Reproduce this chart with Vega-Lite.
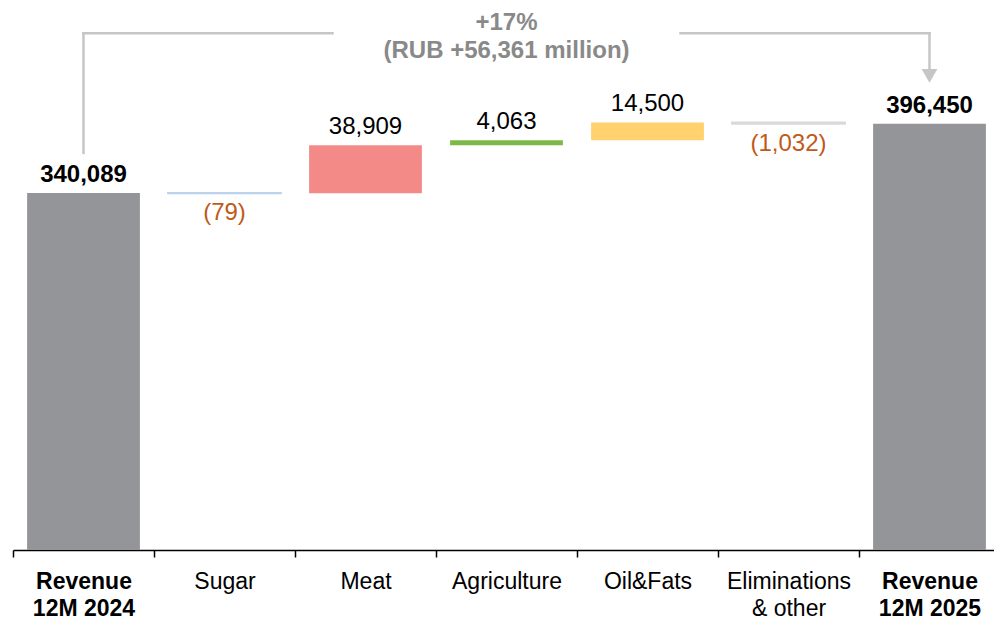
{
  "$schema": "https://vega.github.io/schema/vega-lite/v6.json",
  "width": 987,
  "height": 550,
  "autosize": {"type": "none"},
  "padding": {"left": 13, "top": 0, "right": 0, "bottom": 69},
  "background": "white",
  "config": {
    "view": {"stroke": null},
    "font": "Liberation Sans"
  },
  "datasets": {
    "bars": [
      {"cat": "Revenue 12M 2024", "kind": "total", "start": 0, "end": 340089, "delta": 340089},
      {"cat": "Sugar", "kind": "down", "start": 340089, "end": 340010, "delta": -79},
      {"cat": "Meat", "kind": "up", "start": 340010, "end": 378919, "delta": 38909},
      {"cat": "Agriculture", "kind": "up", "start": 378919, "end": 382982, "delta": 4063},
      {"cat": "Oil&Fats", "kind": "up", "start": 382982, "end": 397482, "delta": 14500},
      {"cat": "Eliminations & other", "kind": "down", "start": 397482, "end": 396450, "delta": -1032},
      {"cat": "Revenue 12M 2025", "kind": "total", "start": 0, "end": 396450, "delta": 396450}
    ],
    "vlines": [
      {"cat": "Revenue 12M 2024", "y": 372700, "y2": 470000},
      {"cat": "Revenue 12M 2025", "y": 470000, "y2": 441000}
    ],
    "hline1": [{"cat": "Revenue 12M 2024", "cat2": "Meat", "y": 470000}],
    "hline2": [{"cat": "Oil&Fats", "cat2": "Revenue 12M 2025", "y": 470000}],
    "arrow": [{"cat": "Revenue 12M 2025", "y": 435300}],
    "note": [
      {"cat": "Agriculture", "y": 472600, "t": "+17%"},
      {"cat": "Agriculture", "y": 449900, "t": "(RUB +56,361 million)"}
    ]
  },
  "layer": [
    {
      "data": {"name": "bars"},
      "mark": {"type": "bar", "clip": true, "width": {"band": 0.8}},
      "encoding": {
        "x": {
          "field": "cat", "type": "nominal", "sort": null, "title": null,
          "scale": {
            "domain": ["Revenue 12M 2024", "Sugar", "Meat", "Agriculture", "Oil&Fats", "Eliminations & other", "Revenue 12M 2025"],
            "paddingInner": 0, "paddingOuter": 0
          },
          "axis": {
            "labelAngle": 0,
            "labelFont": "Liberation Sans",
            "labelFontSize": 23,
            "labelColor": "#000000",
            "labelLineHeight": 27,
            "labelPadding": 13,
            "labelExpr": "datum.value ? split(replace(replace(datum.value, 'Revenue ', 'Revenue\\n'), 'Eliminations ', 'Eliminations\\n'), '\\n') : ''",
            "labelFontWeight": {"condition": {"test": "indexof('' + datum.value, 'Revenue') >= 0", "value": "bold"}, "value": "normal"},
            "domainColor": "#000000",
            "domainWidth": 1.5,
            "tickColor": "#000000",
            "tickWidth": 1.5,
            "tickSize": 7,
            "tickBand": "extent",
            "grid": false
          }
        },
        "y": {
          "field": "start", "type": "quantitative",
          "scale": {"domain": [50000, 497000], "zero": false, "nice": false},
          "axis": null
        },
        "y2": {"field": "end"},
        "color": {
          "field": "cat", "type": "nominal", "legend": null,
          "scale": {
            "domain": ["Revenue 12M 2024", "Sugar", "Meat", "Agriculture", "Oil&Fats", "Eliminations & other", "Revenue 12M 2025"],
            "range": ["#939598", "#bcd3ee", "#f48a88", "#7db84a", "#ffd26f", "#d9d9d9", "#939598"]
          }
        },
        "stroke": {
          "field": "cat", "type": "nominal", "legend": null,
          "scale": {
            "domain": ["Revenue 12M 2024", "Sugar", "Meat", "Agriculture", "Oil&Fats", "Eliminations & other", "Revenue 12M 2025"],
            "range": ["#939598", "#bcd3ee", "#f48a88", "#7db84a", "#ffd26f", "#d9d9d9", "#939598"]
          }
        },
        "strokeWidth": {"condition": {"test": "abs(datum.end - datum.start) < 2000", "value": 2}, "value": 0}
      }
    },
    {
      "data": {"name": "bars"},
      "transform": [{"filter": "datum.kind == 'total'"}],
      "mark": {"type": "text", "baseline": "alphabetic", "dy": -11, "fontSize": 24, "fontWeight": "bold", "color": "#000000"},
      "encoding": {
        "x": {"field": "cat", "type": "nominal"},
        "y": {"field": "end", "type": "quantitative"},
        "text": {"field": "delta", "type": "quantitative", "format": ","}
      }
    },
    {
      "data": {"name": "bars"},
      "transform": [{"filter": "datum.kind == 'up'"}],
      "mark": {"type": "text", "baseline": "alphabetic", "dy": -11, "fontSize": 24, "color": "#000000"},
      "encoding": {
        "x": {"field": "cat", "type": "nominal"},
        "y": {"field": "end", "type": "quantitative"},
        "text": {"field": "delta", "type": "quantitative", "format": ","}
      }
    },
    {
      "data": {"name": "bars"},
      "transform": [{"filter": "datum.kind == 'down'"}],
      "mark": {"type": "text", "baseline": "alphabetic", "dy": 27, "fontSize": 24, "color": "#bf5a1a"},
      "encoding": {
        "x": {"field": "cat", "type": "nominal"},
        "y": {"field": "end", "type": "quantitative"},
        "text": {"field": "delta", "type": "quantitative", "format": "(,"}
      }
    },
    {
      "data": {"name": "vlines"},
      "mark": {"type": "rule", "color": "#c6c6c6", "strokeWidth": 2.5, "strokeCap": "square"},
      "encoding": {
        "x": {"field": "cat", "type": "nominal"},
        "y": {"field": "y", "type": "quantitative"},
        "y2": {"field": "y2"}
      }
    },
    {
      "data": {"name": "hline1"},
      "mark": {"type": "rule", "color": "#c6c6c6", "strokeWidth": 2.5, "strokeCap": "square", "x2Offset": -33},
      "encoding": {
        "x": {"field": "cat", "type": "nominal"},
        "x2": {"field": "cat2"},
        "y": {"field": "y", "type": "quantitative"}
      }
    },
    {
      "data": {"name": "hline2"},
      "mark": {"type": "rule", "color": "#c6c6c6", "strokeWidth": 2.5, "strokeCap": "square", "xOffset": 33},
      "encoding": {
        "x": {"field": "cat", "type": "nominal"},
        "x2": {"field": "cat2"},
        "y": {"field": "y", "type": "quantitative"}
      }
    },
    {
      "data": {"name": "arrow"},
      "mark": {"type": "point", "shape": "triangle-down", "size": 250, "filled": true, "color": "#c6c6c6", "opacity": 1},
      "encoding": {
        "x": {"field": "cat", "type": "nominal"},
        "y": {"field": "y", "type": "quantitative"}
      }
    },
    {
      "data": {"name": "note"},
      "mark": {"type": "text", "baseline": "alphabetic", "fontSize": 24, "fontWeight": "bold", "color": "#898989"},
      "encoding": {
        "x": {"field": "cat", "type": "nominal"},
        "y": {"field": "y", "type": "quantitative"},
        "text": {"field": "t", "type": "nominal"}
      }
    }
  ]
}
